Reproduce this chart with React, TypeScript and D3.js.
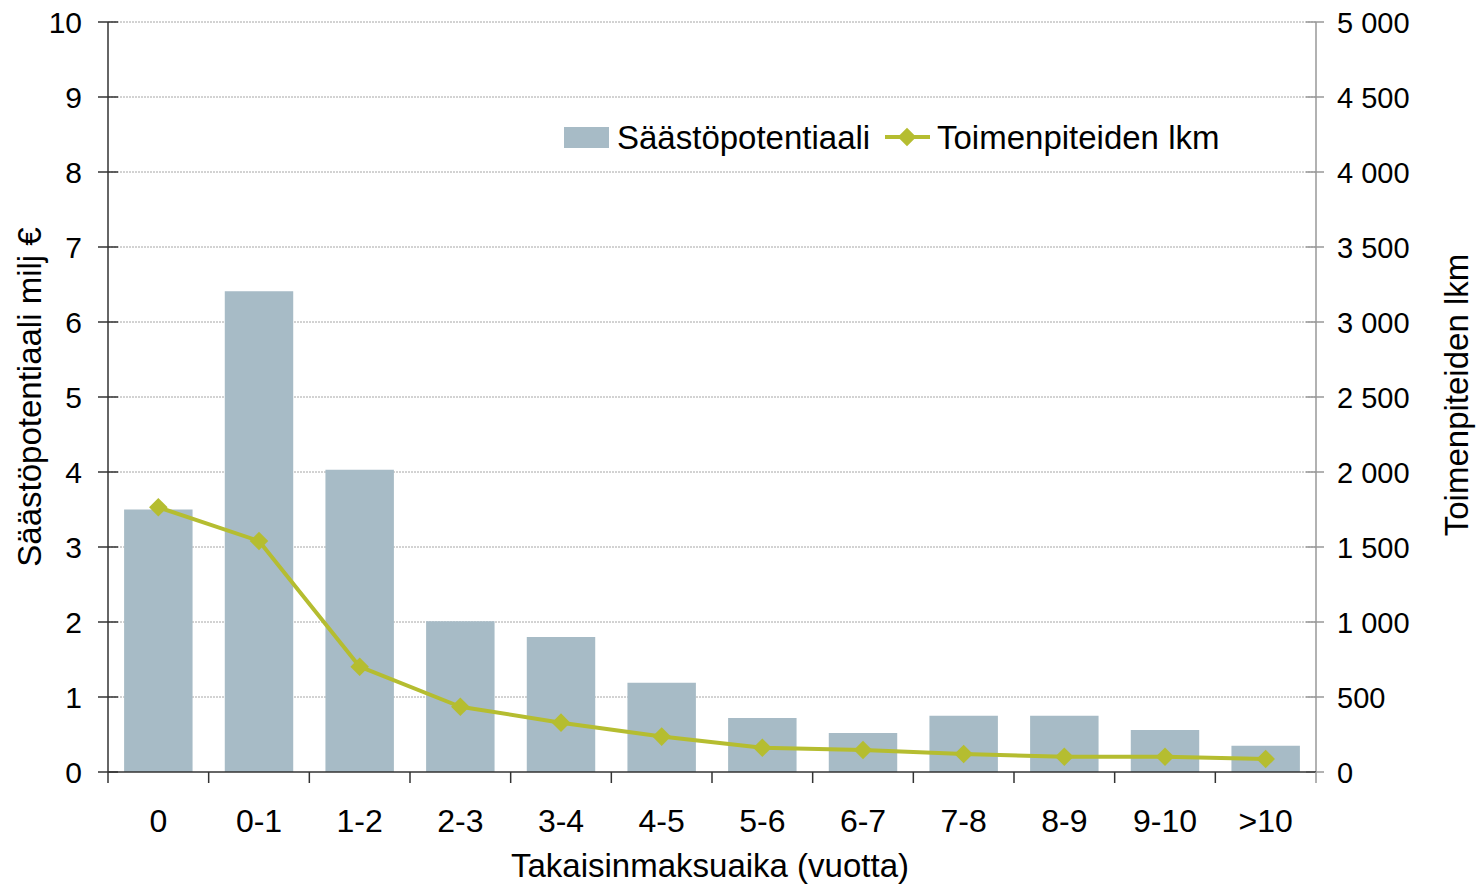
import React, { useEffect, useRef } from 'react';
import * as d3 from 'd3';

const categories = ['0', '0-1', '1-2', '2-3', '3-4', '4-5', '5-6', '6-7', '7-8', '8-9', '9-10', '>10'];
const savings = [3.5, 6.41, 4.03, 2.01, 1.8, 1.19, 0.72, 0.52, 0.75, 0.75, 0.56, 0.35];
const measures = [1765, 1540, 702, 435, 329, 236, 162, 147, 120, 102, 102, 87];
const leftTicks = [0, 1, 2, 3, 4, 5, 6, 7, 8, 9, 10];
const rightTicks = [0, 500, 1000, 1500, 2000, 2500, 3000, 3500, 4000, 4500, 5000];

const BAR_COLOR = '#a7bbc6';
const LINE_COLOR = '#b5bd30';
const FONT = 'Liberation Sans, Arial, sans-serif';

const App: React.FC = () => {
  const svgRef = useRef<SVGSVGElement>(null);

  useEffect(() => {
    if (!svgRef.current) return;
    const svg = d3.select(svgRef.current);
    svg.selectAll('*').remove();

    const left = 108, right = 1316, top = 22, bottom = 772;

    const x = d3.scaleBand<string>()
      .domain(categories)
      .range([left, right])
      .paddingInner(0.32)
      .paddingOuter(0.16);
    const step = x.step();
    const cx = (c: string) => (x(c) as number) + x.bandwidth() / 2;

    const yL = d3.scaleLinear().domain([0, 10]).range([bottom, top]);
    const yR = d3.scaleLinear().domain([0, 5000]).range([bottom, top]);

    // grid lines
    svg.append('g')
      .selectAll('line')
      .data(leftTicks.filter(d => d > 0))
      .enter().append('line')
      .attr('x1', left).attr('x2', right)
      .attr('y1', d => yL(d)).attr('y2', d => yL(d))
      .attr('stroke', '#a6a6a6')
      .attr('stroke-width', 1)
      .attr('stroke-dasharray', '2,1');

    // bars
    svg.append('g')
      .selectAll('rect')
      .data(categories)
      .enter().append('rect')
      .attr('x', d => x(d) as number)
      .attr('width', x.bandwidth())
      .attr('y', (d, i) => yL(savings[i]))
      .attr('height', (d, i) => bottom - yL(savings[i]))
      .attr('fill', BAR_COLOR);

    // left axis
    const gl = svg.append('g');
    gl.append('line')
      .attr('x1', left).attr('x2', left)
      .attr('y1', top).attr('y2', bottom)
      .attr('stroke', '#333').attr('stroke-width', 1.5);
    gl.selectAll('.tk')
      .data(leftTicks)
      .enter().append('line')
      .attr('x1', left - 10).attr('x2', left + 10)
      .attr('y1', d => yL(d)).attr('y2', d => yL(d))
      .attr('stroke', '#333').attr('stroke-width', 1.5);
    gl.selectAll('text')
      .data(leftTicks)
      .enter().append('text')
      .attr('x', 82)
      .attr('y', d => yL(d) + 10.5)
      .attr('text-anchor', 'end')
      .attr('font-family', FONT)
      .attr('font-size', 30)
      .attr('fill', '#000')
      .text(d => String(d));

    // right axis
    const gr = svg.append('g');
    gr.append('line')
      .attr('x1', right).attr('x2', right)
      .attr('y1', top).attr('y2', bottom)
      .attr('stroke', '#999').attr('stroke-width', 1.5);
    gr.selectAll('.tk')
      .data(rightTicks)
      .enter().append('line')
      .attr('x1', right - 10).attr('x2', right + 8)
      .attr('y1', d => yR(d)).attr('y2', d => yR(d))
      .attr('stroke', '#999').attr('stroke-width', 1.5);
    gr.selectAll('text')
      .data(rightTicks)
      .enter().append('text')
      .attr('x', 1337)
      .attr('y', d => yR(d) + 10.5)
      .attr('font-family', FONT)
      .attr('font-size', 29)
      .attr('fill', '#000')
      .text(d => d3.format(',')(d).replace(',', ' '));

    // bottom axis
    const gb = svg.append('g');
    gb.append('line')
      .attr('x1', left).attr('x2', right)
      .attr('y1', bottom).attr('y2', bottom)
      .attr('stroke', '#333').attr('stroke-width', 1.5);
    const bounds = d3.range(categories.length + 1).map(i => left + i * step);
    gb.selectAll('.tk')
      .data(bounds)
      .enter().append('line')
      .attr('x1', d => d).attr('x2', d => d)
      .attr('y1', bottom).attr('y2', bottom + 11)
      .attr('stroke', (d, i) => (i === bounds.length - 1 ? '#999' : '#333'))
      .attr('stroke-width', 1.5);
    gb.selectAll('text')
      .data(categories)
      .enter().append('text')
      .attr('x', d => cx(d))
      .attr('y', 832)
      .attr('text-anchor', 'middle')
      .attr('font-family', FONT)
      .attr('font-size', 32)
      .attr('fill', '#000')
      .text(d => d);

    // line series
    const line = d3.line<number>()
      .x((d, i) => cx(categories[i]))
      .y(d => yR(d));
    svg.append('path')
      .datum(measures)
      .attr('d', line)
      .attr('fill', 'none')
      .attr('stroke', LINE_COLOR)
      .attr('stroke-width', 4)
      .attr('stroke-linejoin', 'round');
    const diamond = d3.symbol().type(d3.symbolDiamond2).size(220);
    svg.append('g')
      .selectAll('path')
      .data(measures)
      .enter().append('path')
      .attr('d', diamond)
      .attr('transform', (d, i) => `translate(${cx(categories[i])},${yR(d)})`)
      .attr('fill', LINE_COLOR);

    // axis titles
    svg.append('text')
      .attr('x', 710).attr('y', 877)
      .attr('text-anchor', 'middle')
      .attr('font-family', FONT).attr('font-size', 33)
      .text('Takaisinmaksuaika (vuotta)');
    svg.append('text')
      .attr('transform', 'translate(41,397) rotate(-90)')
      .attr('text-anchor', 'middle')
      .attr('font-family', FONT).attr('font-size', 33)
      .text('Säästöpotentiaali milj €');
    svg.append('text')
      .attr('transform', 'translate(1468,395) rotate(-90)')
      .attr('text-anchor', 'middle')
      .attr('font-family', FONT).attr('font-size', 33)
      .text('Toimenpiteiden lkm');

    // legend
    const lg = svg.append('g');
    lg.append('rect')
      .attr('x', 564).attr('y', 127)
      .attr('width', 45).attr('height', 21)
      .attr('fill', BAR_COLOR);
    lg.append('text')
      .attr('x', 617).attr('y', 149)
      .attr('font-family', FONT).attr('font-size', 33)
      .text('Säästöpotentiaali');
    lg.append('line')
      .attr('x1', 885).attr('x2', 930)
      .attr('y1', 137).attr('y2', 137)
      .attr('stroke', LINE_COLOR).attr('stroke-width', 4);
    lg.append('path')
      .attr('d', diamond)
      .attr('transform', 'translate(907,137)')
      .attr('fill', LINE_COLOR);
    lg.append('text')
      .attr('x', 937).attr('y', 149)
      .attr('font-family', FONT).attr('font-size', 33)
      .text('Toimenpiteiden lkm');
  }, []);

  return (
    <svg
      ref={svgRef}
      width={1478}
      height={884}
      style={{ position: 'absolute', left: 0, top: 0, background: '#fff' }}
    />
  );
};

export default App;
